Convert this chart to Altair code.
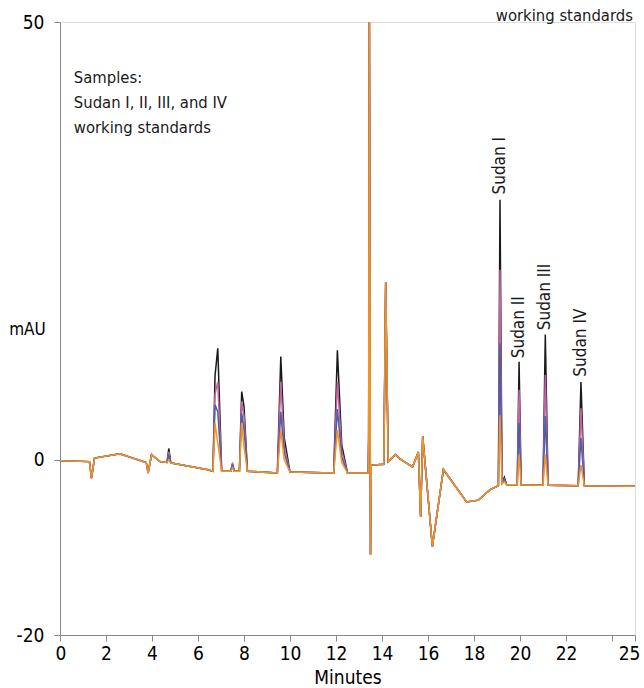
import altair as alt
import pandas as pd

# ---- shared baseline (time in minutes, signal in mAU) ----
BASE_T = [0.00, 1.28, 1.37, 1.50, 2.60, 3.75, 3.83, 3.98, 4.35, 4.65, 4.82, 4.90,
          6.38, 6.65, 7.03, 7.42, 7.58, 7.80, 8.15, 9.45, 10.00, 11.90, 12.50,
          13.40, 13.42, 13.45, 13.50, 13.53, 14.08, 14.16, 14.27, 14.42, 14.60,
          14.78, 15.33, 15.58, 15.68, 15.77, 16.19, 16.67, 17.68, 18.19, 18.70,
          19.06, 19.22, 19.42, 19.88, 20.05, 21.00, 21.22, 22.53, 22.80, 25.00]
BASE_Y = [-0.1, -0.2, -2.1, 0.2, 0.7, -0.3, -1.5, 0.6, -0.2, -0.3, -0.4, -0.4,
          -1.1, -1.3, -1.3, -1.3, -1.3, -1.3, -1.3, -1.5, -1.4, -1.5, -1.5,
          -1.5, 2.5, 52.0, -10.8, -0.6, -0.5, 20.3, -0.2, 0.2, 0.6,
          0.1, -0.8, 0.9, -6.5, 2.7, -9.9, -1.1, -4.8, -4.6, -3.4,
          -2.95, -2.7, -2.85, -2.85, -2.85, -2.9, -2.9, -2.95, -2.95, -3.0]

# ---- peak apex times and heights for each working standard ----
PEAK_T = [4.73, 6.74, 6.86, 7.50, 7.90, 8.00, 9.60, 9.75, 12.06, 12.25,
          19.13, 19.32, 19.96, 21.10, 22.65]
BLACK = [1.3, 9.6, 12.75, -0.4, 7.8, 6.1, 11.8, 2.5, 12.5, 1.7,
         29.7, -2.0, 11.2, 14.3, 8.9]
MAGENTA = [0.9, 7.5, 8.9, -0.5, 6.65, 5.0, 8.9, 1.5, 8.9, 1.0,
           21.7, -2.2, 8.0, 9.7, 5.9]
BLUE = [0.6, 6.3, 5.5, -0.7, 5.3, 3.5, 5.5, 0.8, 5.8, 0.3,
        13.3, -2.3, 4.2, 5.0, 2.5]
ORANGE = [0.0, 4.2, 1.9, -0.9, 4.2, 1.5, 3.4, 0.0, 3.4, -0.3,
          5.1, -2.5, 0.6, 0.6, -0.6]

TRACES = ["black", "magenta", "blue", "orange"]
COLORS = ["#1a1a1a", "#c462a6", "#4b5fad", "#f7941d"]
PEAKS = [BLACK, MAGENTA, BLUE, ORANGE]

# ---- annotation texts ----
SUDAN_LABELS = ["Sudan I", "Sudan II", "Sudan III", "Sudan IV"]
SUDAN_T = [19.13, 19.96, 21.10, 22.65]
SUDAN_Y = [30.3, 11.6, 14.8, 9.5]

FONT = "'Liberation Sans Narrow', 'DejaVu Sans Condensed', 'Arial Narrow', Roboto, sans-serif"

rows = []
for name, pk in zip(TRACES, PEAKS):
    pts = list(zip(BASE_T, BASE_Y)) + list(zip(PEAK_T, pk))
    pts.sort(key=lambda p: p[0])
    for i, (t, v) in enumerate(pts):
        rows.append({"trace": name, "t": t, "v": v, "i": i})
df = pd.DataFrame(rows)

xscale = alt.Scale(domain=[0, 25], nice=False, zero=False)
yscale = alt.Scale(domain=[-20, 50], nice=False, zero=False)

xaxis = alt.Axis(
    values=[0, 2, 4, 6, 8, 10, 12, 14, 16, 18, 20, 22, 24, 25],
    labelExpr="datum.value == 24 ? '' : datum.label",
    title="Minutes", grid=False, tickSize=6, labelPadding=3,
    labelFontSize=19, titleFontSize=19, titleFontWeight="normal",
    titlePadding=5, labelFlush=1, labelFlushOffset=5,
)
yaxis = alt.Axis(
    values=[-20, 0, 50], title="mAU", grid=False, tickSize=6, labelPadding=10,
    labelExpr="'' + datum.value",
    labelFontSize=19, titleFontSize=17, titleFontWeight="normal",
    titleAngle=0, titleX=-33, titleY=307, titleAlign="center",
    titleBaseline="middle", labelFlush=False,
)

X = alt.X("t:Q", scale=xscale, axis=xaxis)
Y = alt.Y("v:Q", scale=yscale, axis=yaxis)

layers = []
for name, col in zip(TRACES, COLORS):
    ch = alt.Chart(df).transform_filter(
        alt.datum.trace == name
    ).mark_line(color=col, strokeWidth=1.5, clip=True).encode(
        x=X, y=Y, order="i:Q",
    )
    layers.append(ch)

lab_df = pd.DataFrame({"label": SUDAN_LABELS, "t": SUDAN_T, "v": SUDAN_Y})
labels = alt.Chart(lab_df).mark_text(
    angle=270, align="left", baseline="middle", fontSize=17, font=FONT,
    color="#1a1a1a"
).encode(x=X, y=Y, text="label:N")

note_df = pd.DataFrame({
    "t": [0.6], "v": [43.0],
    "txt": [["Samples:", "Sudan I, II, III, and IV", "working standards"]],
})
note = alt.Chart(note_df).mark_text(
    align="left", baseline="alphabetic", fontSize=16.5, font=FONT,
    lineHeight=25, color="#1a1a1a"
).encode(x=X, y=Y, text="txt")

top_df = pd.DataFrame({"t": [24.91], "v": [50.1], "txt": ["working standards"]})
top_note = alt.Chart(top_df).mark_text(
    align="right", baseline="alphabetic", fontSize=16.5, font=FONT, color="#1a1a1a"
).encode(x=X, y=Y, text="txt:N")

chart = alt.layer(*layers, labels, note, top_note).properties(
    width=575, height=613,
    autosize=alt.AutoSizeParams(type="none"),
    padding={"left": 60, "top": 22, "right": 9, "bottom": 53},
).configure_view(strokeWidth=0).configure_axis(
    domainColor="#1a1a1a", tickColor="#1a1a1a", domainWidth=1.5, tickWidth=1.5,
    labelColor="#1a1a1a", titleColor="#1a1a1a", labelFont=FONT, titleFont=FONT,
).configure(font=FONT)

chart.save("out.html", embed_options={"renderer": "svg", "actions": False})
